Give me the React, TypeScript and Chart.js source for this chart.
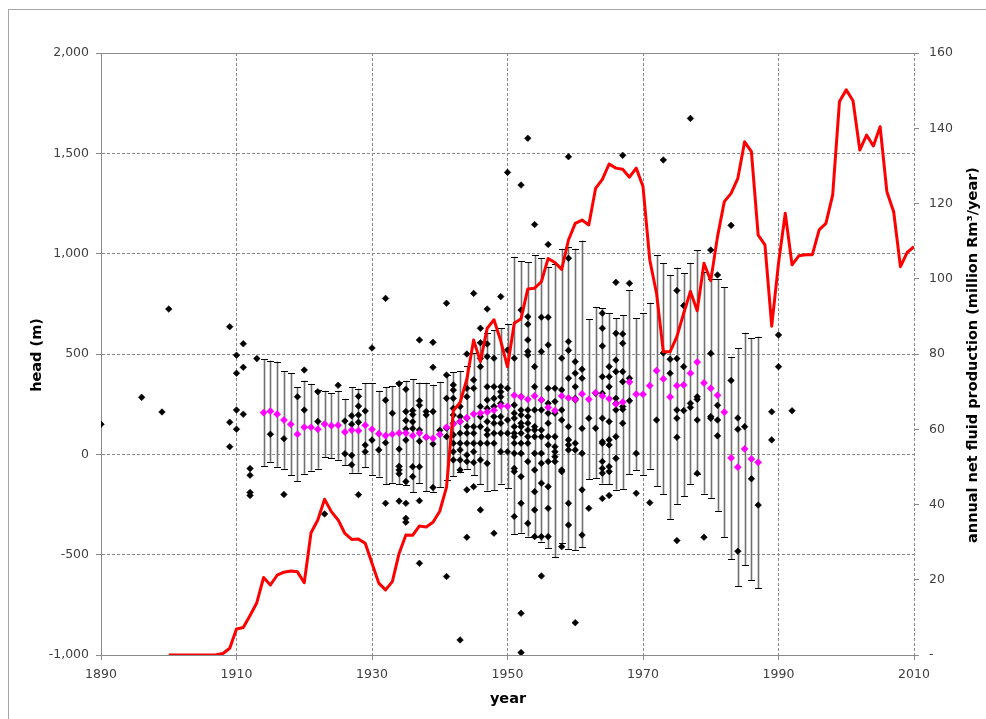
import React, { useEffect, useRef } from 'react';
import { Chart, registerables } from 'chart.js';

Chart.register(...registerables);

// ---- annual net fluid production (right axis) ----
const prodYears = [
  1900, 1901, 1902, 1903, 1904, 1905, 1906, 1907, 1908, 1909,
  1910, 1911, 1912, 1913, 1914, 1915, 1916, 1917, 1918, 1919,
  1920, 1921, 1922, 1923, 1924, 1925, 1926, 1927, 1928, 1929,
  1930, 1931, 1932, 1933, 1934, 1935, 1936, 1937, 1938, 1939,
  1940, 1941, 1942, 1943, 1944, 1945, 1946, 1947, 1948, 1949,
  1950, 1951, 1952, 1953, 1954, 1955, 1956, 1957, 1958, 1959,
  1960, 1961, 1962, 1963, 1964, 1965, 1966, 1967, 1968, 1969,
  1970, 1971, 1972, 1973, 1974, 1975, 1976, 1977, 1978, 1979,
  1980, 1981, 1982, 1983, 1984, 1985, 1986, 1987, 1988, 1989,
  1990, 1991, 1992, 1993, 1994, 1995, 1996, 1997, 1998, 1999,
  2000, 2001, 2002, 2003, 2004, 2005, 2006, 2007, 2008, 2009,
  2010,
];
const prodValues = [
  0, 0, 0, 0, 0, 0, 0, 0.1, 0.4, 1.8,
  6.9, 7.3, 10.5, 13.9, 20.6, 18.6, 21.2, 22.0, 22.3, 22.1,
  19.2, 32.5, 35.9, 41.4, 38.1, 35.9, 32.3, 30.7, 30.8, 29.7,
  24.4, 19.1, 17.3, 19.5, 27.0, 31.9, 31.8, 34.3, 34.0, 35.3,
  38.2, 44.6, 64.9, 67.1, 73.3, 83.7, 78.0, 86.8, 89.1, 83.5,
  76.6, 88.2, 89.4, 97.3, 97.5, 99.2, 105.4, 104.3, 102.5, 110.3,
  114.7, 115.6, 114.3, 124.0, 126.4, 130.5, 129.4, 129.1, 127.0, 129.4,
  124.5, 105.0, 96.1, 80.6, 80.6, 84.6, 90.8, 96.6, 91.5, 104.1,
  99.5, 111.2, 120.5, 122.7, 126.7, 136.4, 133.8, 111.6, 109.0, 87.4,
  104.1, 117.4, 103.7, 106.1, 106.4, 106.4, 113.0, 114.7, 122.3, 147.1,
  150.2, 147.3, 134.2, 138.2, 135.3, 140.4, 123.1, 117.8, 103.2, 107.0,
  108.5,
];

// ---- running mean head and its standard deviation (magenta + error bars) ----
const meanYears = [
  1914, 1915, 1916, 1917, 1918, 1919, 1920, 1921, 1922, 1923,
  1924, 1925, 1926, 1927, 1928, 1929, 1930, 1931, 1932, 1933,
  1934, 1935, 1936, 1937, 1938, 1939, 1940, 1941, 1942, 1943,
  1944, 1945, 1946, 1947, 1948, 1949, 1950, 1951, 1952, 1953,
  1954, 1955, 1956, 1957, 1958, 1959, 1960, 1961, 1962, 1963,
  1964, 1965, 1966, 1967, 1968, 1969, 1970, 1971, 1972, 1973,
  1974, 1975, 1976, 1977, 1978, 1979, 1980, 1981, 1982, 1983,
  1984, 1985, 1986, 1987,
];
const meanHeads = [
  208, 215, 200, 171, 150, 100, 135, 135, 125, 151,
  143, 145, 111, 121, 118, 145, 125, 103, 93, 100,
  106, 106, 93, 106, 86, 80, 99, 135, 151, 163,
  183, 201, 205, 211, 220, 241, 239, 294, 286, 274,
  291, 271, 234, 218, 291, 281, 274, 301, 274, 307,
  291, 277, 251, 260, 360, 300, 299, 342, 417, 376,
  286, 342, 346, 404, 460, 356, 329, 294, 210, -18,
  -64, 27, -23, -40,
];
const stdHeads = [
  266, 252, 262, 243, 254, 234, 232, 216, 196, 166,
  161, 172, 166, 213, 209, 209, 229, 214, 241, 241,
  255, 261, 281, 251, 271, 267, 262, 262, 259, 251,
  257, 304, 355, 392, 400, 387, 409, 691, 677, 684,
  701, 706, 701, 732, 734, 754, 751, 764, 399, 426,
  437, 426, 427, 432, 459, 378, 404, 414, 575, 576,
  608, 589, 556, 551, 558, 552, 546, 578, 622, 505,
  594, 579, 603, 627,
];

// ---- individual head observations (black diamonds) ----
const headYears = [
  1890, 1896, 1899, 1900,
  1909, 1909, 1909,
  1910, 1910, 1910, 1910,
  1911, 1911, 1911,
  1912, 1912, 1912, 1912,
  1913, 1915, 1917, 1917, 1919, 1920, 1920, 1922, 1922, 1923, 1925,
  1926, 1926,
  1927, 1927, 1927, 1927,
  1928, 1928, 1928, 1928, 1928,
  1929, 1929, 1929,
  1930, 1930, 1931,
  1932, 1932, 1932, 1932,
  1933,
  1934, 1934, 1934, 1934, 1934, 1934,
  1935, 1935, 1935, 1935, 1935, 1935, 1935, 1935, 1935,
  1936, 1936, 1936, 1936, 1936, 1936,
  1937, 1937, 1937, 1937, 1937, 1937, 1937, 1937,
  1938, 1938, 1938,
  1939, 1939, 1939, 1939, 1939,
  1940,
  1941, 1941, 1941, 1941, 1941, 1941,
  1942, 1942, 1942, 1942, 1942, 1942, 1942, 1942, 1942, 1942,
  1943, 1943, 1943, 1943, 1943, 1943, 1943, 1943, 1943,
  1944, 1944, 1944, 1944, 1944, 1944, 1944, 1944, 1944, 1944, 1944,
  1945, 1945, 1945, 1945, 1945, 1945, 1945, 1945, 1945,
  1946, 1946, 1946, 1946, 1946, 1946, 1946, 1946, 1946, 1946,
  1947, 1947, 1947, 1947, 1947, 1947, 1947, 1947, 1947, 1947, 1947,
  1948, 1948, 1948, 1948, 1948, 1948, 1948, 1948, 1948,
  1949, 1949, 1949, 1949, 1949, 1949, 1949, 1949, 1949,
  1950, 1950, 1950, 1950, 1950, 1950,
  1951, 1951, 1951, 1951, 1951, 1951, 1951, 1951, 1951, 1951, 1951, 1951,
  1952, 1952, 1952, 1952, 1952, 1952, 1952, 1952, 1952, 1952, 1952, 1952, 1952, 1952,
  1953, 1953, 1953, 1953, 1953, 1953, 1953, 1953, 1953, 1953, 1953, 1953, 1953, 1953,
  1954, 1954, 1954, 1954, 1954, 1954, 1954, 1954, 1954, 1954, 1954, 1954,
  1955, 1955, 1955, 1955, 1955, 1955, 1955, 1955, 1955, 1955, 1955,
  1956, 1956, 1956, 1956, 1956, 1956, 1956, 1956, 1956, 1956, 1956, 1956, 1956,
  1957, 1957, 1957, 1957, 1957, 1957, 1957, 1957,
  1958, 1958, 1958, 1958, 1958, 1958, 1958,
  1959, 1959, 1959, 1959, 1959, 1959, 1959, 1959, 1959, 1959, 1959,
  1960, 1960, 1960, 1960, 1960, 1960, 1960, 1960,
  1961, 1961, 1961, 1961, 1961, 1961,
  1962, 1962, 1963, 1963,
  1964, 1964, 1964, 1964, 1964, 1964, 1964, 1964, 1964, 1964, 1964, 1964,
  1965, 1965, 1965, 1965, 1965, 1965, 1965, 1965, 1965,
  1966, 1966, 1966, 1966, 1966, 1966, 1966, 1966, 1966,
  1967, 1967, 1967, 1967, 1967, 1967, 1967, 1967,
  1968, 1968, 1968, 1969, 1969, 1971, 1972, 1973, 1973, 1974, 1974,
  1975, 1975, 1975, 1975, 1975, 1975,
  1976, 1976, 1976, 1977, 1977, 1977,
  1978, 1978, 1978, 1978, 1979,
  1980, 1980, 1980, 1980,
  1981, 1981, 1981, 1981,
  1983, 1983, 1984, 1984, 1984, 1985, 1986, 1987,
  1989, 1989, 1990, 1990, 1992,
];
const headValues = [
  150, 284, 211, 724,
  636, 160, 38,
  494, 404, 221, 125,
  551, 434, 200,
  -71, -104, -190, -205,
  477, 100, 78, -200, 287, 420, 221, 312, 164, -297, 344,
  166, 3,
  192, 150, -5, -52,
  289, 240, 196, 160, -201,
  216, 46, 13,
  530, 71, 22,
  777, 270, 58, -244,
  205,
  352, 26, -60, -78, -97, -233,
  324, 213, 168, 126, 71, -136, -244, -319, -338,
  218, 198, 162, 129, -62, -111,
  570, 267, 244, 121, 65, -62, -231, -543,
  213, 196, 85,
  558, 434, 213, 52, -165,
  120,
  753, 395, 279, 130, 88, -609,
  346, 320, 279, 229, 196, 155, 97, 55, 13, -28,
  238, 188, 163, 105, 55, 22, -28, -78, -925,
  500, 329, 287, 180, 138, 105, 55, -3, -36, -177, -413,
  802, 371, 329, 138, 105, 55, 13, -41, -161,
  628, 556, 478, 437, 238, 188, 138, 55, -28, -277,
  724, 550, 487, 337, 271, 229, 163, 121, 97, 55, -45,
  479, 337, 279, 238, 188, 155, 105, 55, -393,
  786, 337, 312, 287, 254, 188, 155, 105, 13,
  1405, 520, 329, 171, 105, 13,
  479, 246, 205, 180, 138, 105, 88, 55, 5, -70, -86, -310,
  1342, 719, 287, 221, 196, 155, 138, 105, 55, 5, -111, -244, -792, -988,
  1575, 686, 648, 570, 512, 495, 221, 188, 155, 121, 88, 55, -36, -344,
  1145, 437, 337, 221, 138, 121, 88, 5, -78, -186, -277, -410,
  683, 512, 271, 221, 121, 88, 5, -45, -144, -410, -606,
  1046, 683, 545, 329, 254, 205, 155, 88, 47, -36, -161, -269, -410,
  329, 263, 205, 88, 38, 13, -12, -36,
  479, 321, 221, 171, -78, -86, -460,
  1483, 977, 562, 518, 379, 138, 72, 47, 22, -244, -352,
  462, 404, 337, 279, 271, 55, 22, -839,
  424, 379, 129, 5, -177, -402,
  180, -269, 304, 130,
  703, 628, 540, 387, 304, 180, 63, 55, -36, -70, -94, -220,
  437, 387, 337, 163, 72, 47, -61, -86, -205,
  857, 603, 470, 412, 279, 254, 221, 88, -20,
  1490, 600, 553, 412, 362, 238, 224, 155,
  852, 379, 267, 5, -194, -241, 171, 1467, 505, 474, 404,
  816, 477, 221, 180, 85, -430,
  741, 437, 218, 1674, 254, 234,
  287, 274, 171, -95, -413,
  1018, 503, 188, 180,
  894, 244, 171, 92,
  1141, 368, 181, 125, -483, 138, -122, -253,
  212, 72, 595, 437, 217,
];

// ---- axis tick values ----
const yearTicks = [1890, 1910, 1930, 1950, 1970, 1990, 2010];
const headTicks = [-1000, -500, 0, 500, 1000, 1500, 2000];
const prodTicks = [0, 20, 40, 60, 80, 100, 120, 140, 160];

const TICK_FONT = { family: '"DejaVu Sans", Verdana, sans-serif', size: 12.5 };
const TICK_COLOR = '#404040';
const GRID_COLOR = '#8a8a8a';

const overlayPlugin = {
  id: 'overlay',
  beforeDatasetsDraw(chart: any) {
    const { ctx, scales, chartArea } = chart;
    const x = scales.x;
    const y = scales.y;
    ctx.save();
    // solid top frame line
    ctx.strokeStyle = GRID_COLOR;
    ctx.lineWidth = 1;
    ctx.beginPath();
    ctx.moveTo(chartArea.left, Math.round(chartArea.top) + 0.5);
    ctx.lineTo(chartArea.right, Math.round(chartArea.top) + 0.5);
    ctx.stroke();
    // error bars
    for (let i = 0; i < meanYears.length; i++) {
      const px = Math.round(x.getPixelForValue(meanYears[i])) + 0.5;
      const top = y.getPixelForValue(meanHeads[i] + stdHeads[i]);
      const bot = y.getPixelForValue(meanHeads[i] - stdHeads[i]);
      ctx.strokeStyle = '#707070';
      ctx.lineWidth = 1.6;
      ctx.beginPath();
      ctx.moveTo(px, top);
      ctx.lineTo(px, bot);
      ctx.stroke();
      ctx.strokeStyle = '#000000';
      ctx.lineWidth = 1;
      ctx.beginPath();
      ctx.moveTo(px - 3.5, Math.round(top) + 0.5);
      ctx.lineTo(px + 3.5, Math.round(top) + 0.5);
      ctx.moveTo(px - 3.5, Math.round(bot) + 0.5);
      ctx.lineTo(px + 3.5, Math.round(bot) + 0.5);
      ctx.stroke();
    }
    ctx.restore();
  },
  afterDraw(chart: any) {
    const { ctx } = chart;
    ctx.save();
    ctx.fillStyle = '#000000';
    ctx.font = 'bold 14.5px "DejaVu Sans", Verdana, sans-serif';
    ctx.textAlign = 'center';
    ctx.textBaseline = 'middle';
    ctx.fillText('year', 508, 699);
    ctx.save();
    ctx.translate(37, 355);
    ctx.rotate(-Math.PI / 2);
    ctx.fillText('head (m)', 0, 0);
    ctx.restore();
    ctx.save();
    ctx.translate(973, 355);
    ctx.rotate(-Math.PI / 2);
    ctx.fillText('annual net fluid production (million Rm\u00B3/year)', 0, 0);
    ctx.restore();
    ctx.restore();
  },
};

export default function App() {
  const ref = useRef<HTMLCanvasElement>(null);

  useEffect(() => {
    const canvas = ref.current;
    if (!canvas) return;
    const scatterData = headYears.map((yr, i) => ({ x: yr, y: headValues[i] }));
    const meanData = meanYears.map((yr, i) => ({ x: yr, y: meanHeads[i] }));
    const prodData = prodYears.map((yr, i) => ({ x: yr, y: prodValues[i] }));

    const chart = new Chart(canvas, {
      type: 'scatter',
      data: {
        datasets: [
          {
            type: 'line',
            label: 'production',
            data: prodData,
            xAxisID: 'x',
            yAxisID: 'y2',
            borderColor: '#ff0000',
            borderWidth: 3,
            pointRadius: 0,
            tension: 0,
            fill: false,
            borderJoinStyle: 'round',
            order: 0,
          } as any,
          {
            label: 'mean head',
            data: meanData,
            xAxisID: 'x',
            yAxisID: 'y',
            pointStyle: 'rectRot',
            pointRadius: 3.6,
            backgroundColor: '#ff00ff',
            borderColor: '#ff00ff',
            borderWidth: 0.5,
            order: 1,
          },
          {
            label: 'head',
            data: scatterData,
            xAxisID: 'x',
            yAxisID: 'y',
            pointStyle: 'rectRot',
            pointRadius: 3.3,
            backgroundColor: '#000000',
            borderColor: '#000000',
            borderWidth: 0.6,
            order: 2,
          },
        ],
      },
      options: {
        responsive: false,
        animation: false,
        events: [],
        layout: { padding: { left: 0, right: 0, top: 53, bottom: 0 } },
        plugins: {
          legend: { display: false },
          tooltip: { enabled: false },
        },
        scales: {
          x: {
            type: 'linear',
            position: 'bottom',
            min: 1890,
            max: 2010,
            afterBuildTicks: (s: any) => {
              s.ticks = yearTicks.map((v) => ({ value: v }));
            },
            ticks: {
              color: TICK_COLOR,
              font: TICK_FONT,
              padding: 7,
              maxRotation: 0,
              autoSkip: false,
              callback: (v: any) => String(v),
            },
            grid: {
              color: GRID_COLOR,
              lineWidth: 1,
              drawTicks: true,
              tickLength: 5,
              tickColor: GRID_COLOR,
            },
            border: { display: true, color: GRID_COLOR, width: 1, dash: [3, 2] },
            afterFit: (s: any) => {
              s.height = 64;
            },
          },
          y: {
            type: 'linear',
            position: 'left',
            min: -1000,
            max: 2000,
            afterBuildTicks: (s: any) => {
              s.ticks = headTicks.map((v) => ({ value: v }));
            },
            ticks: {
              color: TICK_COLOR,
              font: TICK_FONT,
              padding: 7,
              callback: (v: any) => Number(v).toLocaleString('en-US'),
            },
            grid: {
              color: GRID_COLOR,
              lineWidth: 1,
              drawTicks: true,
              tickLength: 5,
              tickColor: GRID_COLOR,
            },
            border: { display: true, color: GRID_COLOR, width: 1, dash: [3, 2] },
            afterFit: (s: any) => {
              s.width = 101;
            },
          },
          y2: {
            type: 'linear',
            position: 'right',
            min: 0,
            max: 160,
            afterBuildTicks: (s: any) => {
              s.ticks = prodTicks.map((v) => ({ value: v }));
            },
            ticks: {
              color: TICK_COLOR,
              font: TICK_FONT,
              padding: 10,
              callback: (v: any) => (Number(v) === 0 ? '-' : String(v)),
            },
            grid: {
              drawOnChartArea: false,
              drawTicks: true,
              tickLength: 5,
              tickColor: GRID_COLOR,
              color: GRID_COLOR,
            },
            border: { display: false },
            afterFit: (s: any) => {
              s.width = 72;
            },
          },
        },
      },
      plugins: [overlayPlugin],
    } as any);

    return () => chart.destroy();
  }, []);

  return (
    <div
      style={{
        position: 'absolute',
        left: 0,
        top: 0,
        width: 986,
        height: 719,
        overflow: 'hidden',
        background: '#ffffff',
      }}
    >
      <div
        style={{
          position: 'absolute',
          left: 8,
          top: 9,
          width: 1000,
          height: 730,
          borderLeft: '1px solid #a6a6a6',
          borderTop: '1px solid #a6a6a6',
        }}
      />
      <canvas
        ref={ref}
        width={986}
        height={719}
        style={{ position: 'absolute', left: 0, top: 0, width: 986, height: 719 }}
      />
    </div>
  );
}
